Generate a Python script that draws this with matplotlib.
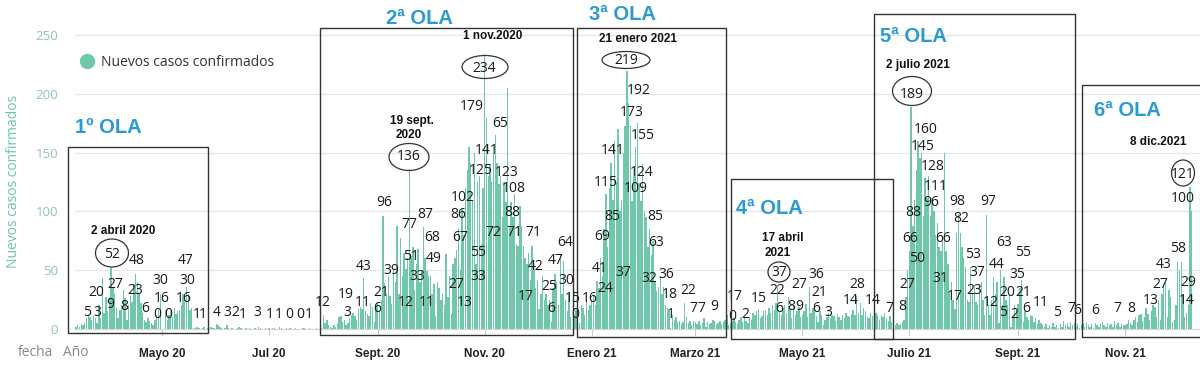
import matplotlib
matplotlib.use("Agg")
import matplotlib.pyplot as plt
from matplotlib.patches import Ellipse, Rectangle
from matplotlib.lines import Line2D
import pandas as pd

plt.rcParams['font.family'] = ['Open Sans', 'DejaVu Sans']

W, H = 1200, 366

# ---------------- daily new confirmed cases ----------------
mar20 = [2, 3, 2, 4, 3, 5, 9, 12, 10, 8, 11, 9, 5, 20, 9, 43, 14, 27, 15]  # from 13 March
apr20 = [27, 52, 35, 30, 18, 9, 16, 20, 33, 26, 8, 20, 28, 23, 38, 47, 40, 30, 22, 14,
         8, 6, 9, 7, 5, 3, 8, 12, 16, 30]
may20 = [0, 0, 16, 8, 12, 15, 10, 18, 13, 15, 16, 20, 30, 25, 36, 30, 16, 18, 1, 1,
         2, 1, 0, 1, 2, 0, 1, 0, 2, 1, 1]
jun20 = [4, 3, 2, 1, 0, 1, 3, 1, 0, 1, 0, 0, 1, 2, 1, 0, 0, 1, 0, 1,
         0, 0, 1, 0, 2, 1, 0, 0, 1, 0]
jul20 = [1, 0, 1, 1, 0, 0, 2, 1, 0, 0, 1, 0, 1, 0, 0, 1, 0, 0, 0, 1,
         1, 0, 0, 1, 0, 0, 0, 1, 0, 0, 1]
aug20 = [12, 5, 8, 3, 2, 1, 3, 2, 4, 10, 11, 6, 8, 3, 5, 9, 12, 14, 11, 8,
         17, 19, 17, 43, 15, 13, 11, 22, 19, 6, 21]
sep20 = [22, 15, 25, 96, 39, 30, 45, 28, 21, 50, 40, 88, 30, 77, 45, 65, 51, 60, 136, 62,
         70, 33, 55, 68, 40, 50, 87, 60, 49, 45]
oct20 = [45, 30, 38, 11, 40, 35, 25, 30, 20, 64, 27, 45, 13, 55, 60, 67, 86, 50, 102, 80,
         120, 135, 155, 141, 110, 150, 55, 125, 130, 72, 120]
nov20 = [234, 179, 130, 140, 125, 150, 165, 141, 123, 130, 95, 125, 108, 205, 88, 108, 95, 115, 72, 71,
         105, 88, 71, 60, 55, 65, 42, 71, 50, 35]
dec20 = [42, 17, 30, 45, 25, 30, 20, 25, 6, 35, 47, 40, 20, 64, 30, 58, 25, 15, 30, 10,
         0, 12, 16, 10, 5, 20, 18, 12, 25, 16, 20]
jan21 = [24, 30, 20, 41, 35, 60, 45, 85, 115, 70, 120, 141, 110, 160, 125, 170, 100, 110, 150, 173,
         219, 192, 173, 109, 130, 155, 175, 124, 109, 140, 100]
feb21 = [95, 70, 85, 63, 75, 40, 32, 36, 45, 30, 36, 20, 18, 15, 1, 12, 8, 10, 6, 7,
         4, 6, 22, 10, 5, 7, 3, 7]
mar21 = [6, 4, 7, 3, 5, 9, 2, 6, 4, 5, 8, 7, 3, 5, 7, 4, 6, 8, 12, 3,
         5, 7, 9, 6, 4, 8, 10, 6, 9, 7, 5]
apr21 = [10, 8, 14, 12, 15, 17, 9, 11, 15, 16, 12, 18, 14, 20, 16, 22, 37, 15, 12, 18,
         20, 14, 27, 17, 9, 20, 12, 15, 19, 10]
may21 = [12, 15, 21, 10, 36, 14, 18, 21, 11, 6, 15, 12, 3, 8, 10, 14, 9, 12, 11, 7,
         13, 10, 8, 12, 9, 14, 11, 10, 13, 16, 12]
jun21 = [28, 14, 22, 12, 18, 15, 10, 9, 14, 11, 16, 14, 12, 8, 12, 10, 14, 9, 7, 11,
         6, 4, 3, 5, 3, 4, 6, 8, 27, 50]
jul21 = [66, 189, 88, 110, 135, 160, 145, 150, 96, 128, 111, 130, 96, 111, 100, 80, 90, 70, 66, 75,
         150, 66, 55, 31, 40, 25, 17, 82, 98, 82, 70]
aug21 = [60, 53, 25, 23, 53, 30, 37, 23, 20, 37, 40, 25, 12, 97, 20, 12, 25, 44, 30, 40,
         5, 50, 20, 44, 25, 20, 30, 2, 10, 20, 15]
sep21 = [21, 35, 42, 6, 15, 10, 8, 12, 11, 6, 9, 4, 8, 5, 3, 2, 4, 1, 3, 2,
         5, 2, 3, 1, 4, 2, 7, 3, 5, 2]
oct21 = [6, 3, 5, 2, 4, 1, 3, 5, 2, 6, 3, 2, 4, 1, 5, 3, 2, 4, 6, 3,
         2, 5, 3, 4, 2, 7, 3, 5, 2, 4, 3]
nov21 = [3, 4, 8, 5, 3, 8, 10, 6, 12, 13, 7, 10, 18, 13, 8, 15, 20, 19, 10, 25,
         8, 30, 37, 41, 10, 33, 27, 6, 8, 20]
dec21 = [57, 50, 57, 29, 10, 14, 20, 121, 100]

start_date = '2020-03-13'

tick_dates = ['2020-05-01', '2020-07-01', '2020-09-01', '2020-11-01', '2021-01-01',
              '2021-03-01', '2021-05-01', '2021-07-01', '2021-09-01', '2021-11-01']
tick_labels = ['Mayo 20', 'Jul 20', 'Sept. 20', 'Nov. 20', 'Enero 21',
               'Marzo 21', 'Mayo 21', 'Julio 21', 'Sept. 21', 'Nov. 21']
y_ticks = [0, 50, 100, 150, 200, 250]

# wave titles and date captions
wave_titles = ['1º OLA', '2ª OLA', '3ª OLA', '4ª OLA', '5ª OLA', '6ª OLA']
date_captions = ['2 abril 2020', '19 sept.', '2020', '1 nov.2020', '21 enero 2021',
                 '17 abril', '2021', '2 julio 2021', '8 dic.2021']
peak_values = ['52', '136', '234', '219', '37', '189', '121']
value_labels = ['5', '3', '20', '9', '27', '48', '8', '23', '6', '0', '0', '30', '16', '16', '30', '47', '1', '1',
                '4', '3', '2', '1', '3', '1', '1', '0', '0', '1',
                '12', '19', '3', '11', '43', '21', '6', '96', '39', '77', '87', '51', '68', '33', '49', '12', '11',
                '27', '13', '67', '86', '102', '55', '33', '125', '141', '179', '65', '123', '108', '72', '88',
                '71', '71', '42', '17', '64', '47', '25', '30', '6', '15', '0',
                '192', '173', '155', '141', '124', '115', '109', '85', '85', '69', '63', '41', '37', '32', '36',
                '24', '16', '18', '22', '1', '7', '7', '9',
                '17', '0', '2', '15', '22', '6', '8', '9', '27', '36', '21', '6', '3', '28', '14', '14', '7',
                '160', '145', '128', '111', '96', '88', '98', '82', '97', '66', '66', '50', '53', '63', '55',
                '27', '31', '37', '44', '35', '23', '17', '20', '21', '12', '8', '5', '2', '6', '11', '5', '7',
                '100', '58', '43', '27', '29', '13', '14', '8', '7', '6', '6']

# ---------------- layout (pixel positions in the 1200x366 canvas) ----------------
title_pos = [(108, 128), (419, 18), (622, 14), (769, 208), (913, 37), (1127, 111)]
caption_pos = [(123, 231), (412, 121), (409, 135), (493, 36), (638, 39),
               (783, 238), (778, 253), (918, 65), (1158, 142)]
peak_text_pos = [(112, 255), (409, 157), (484, 69), (626, 60), (779, 272), (912, 94), (1183, 174)]
peak_ell = [(112, 253, 33, 28), (409, 157, 40, 27), (485, 67, 46, 23), (626, 60, 48, 17),
            (779, 272, 22, 20), (912, 91, 39, 29), (1183, 173, 23, 26)]
value_pos = [(87, 312), (97, 313), (96, 293), (110, 305), (115, 285), (137, 260), (124, 306), (135, 290),
             (145, 309), (157, 315), (168, 315), (160, 281), (162, 298), (184, 298), (187, 281), (186, 261),
             (197, 314), (203, 314),
             (217, 313), (227, 313), (235, 313), (243, 315), (257, 313), (270, 315), (279, 315), (289, 315),
             (300, 315), (309, 315),
             (323, 303), (346, 294), (347, 313), (363, 303), (364, 266), (381, 292), (377, 309), (384, 203),
             (391, 271), (409, 225), (425, 214), (411, 257), (432, 237), (417, 277), (434, 258), (406, 303),
             (427, 303),
             (456, 284), (465, 302), (460, 237), (458, 215), (463, 197), (478, 252), (478, 277), (481, 171),
             (487, 150), (472, 106), (500, 123), (507, 173), (514, 189), (493, 232), (512, 213),
             (514, 232), (533, 232), (536, 267), (526, 297), (565, 242), (556, 261), (549, 287), (566, 281),
             (551, 309), (573, 299), (575, 315),
             (639, 90), (632, 113), (643, 135), (613, 151), (642, 172), (606, 183), (636, 189), (612, 217),
             (655, 217), (602, 236), (656, 243), (600, 268), (623, 273), (649, 278), (666, 275),
             (605, 288), (590, 298), (670, 295), (688, 290), (671, 315), (693, 308), (701, 308), (714, 306),
             (735, 297), (732, 316), (745, 314), (759, 299), (777, 291), (779, 309), (791, 307), (799, 307),
             (799, 284), (816, 274), (819, 293), (816, 309), (828, 313), (857, 284), (851, 300), (873, 300),
             (889, 308),
             (926, 129), (923, 146), (933, 166), (936, 186), (931, 203), (913, 213), (957, 202), (961, 219),
             (988, 202), (910, 239), (943, 239), (917, 258), (973, 254), (1004, 243), (1023, 252),
             (907, 284), (940, 279), (977, 272), (997, 265), (1017, 275), (974, 290), (955, 297), (1007, 293),
             (1023, 293), (991, 303), (902, 307), (1003, 312), (1014, 314), (1026, 309), (1041, 303),
             (1057, 312), (1071, 309),
             (1183, 198), (1178, 249), (1164, 265), (1160, 284), (1188, 282), (1151, 301), (1187, 301),
             (1131, 308), (1117, 308), (1095, 310), (1077, 310)]
boxes = [(68, 147, 208, 333), (320, 28, 573, 335), (577, 28, 726, 337),
         (731, 179, 893, 339), (874, 14, 1075, 339), (1082, 85, 1205, 337)]

BAR = '#6fc8ab'
TITLE_BLUE = '#2a9bd2'

values = (mar20 + apr20 + may20 + jun20 + jul20 + aug20 + sep20 + oct20 + nov20 + dec20 +
          jan21 + feb21 + mar21 + apr21 + may21 + jun21 + jul21 + aug21 + sep21 + oct21 + nov21 + dec21)
dates = pd.date_range(start_date, periods=len(values), freq='D')


def fp(x, y):
    return (x / W, 1 - y / H)


fig = plt.figure(figsize=(W / 100, H / 100), dpi=100)
ax = fig.add_axes([75 / W, 37 / H, 1125 / W, 309 / H])
ax.bar(dates, values, width=0.8, color=BAR, linewidth=0, zorder=2)

px_per_day = 1.755
x_left = pd.Timestamp('2020-05-01') - pd.Timedelta(days=(162 - 75) / px_per_day)
x_right = pd.Timestamp('2021-11-01') + pd.Timedelta(days=(1200 - 1125.1) / px_per_day)
ax.set_xlim(x_left, x_right)
ax.set_ylim(0, 309 / 1.176)

ax.set_yticks(y_ticks)
ax.set_yticklabels([str(v) for v in y_ticks], color='#93c2b4', fontsize=9.5)
ax.tick_params(axis='y', length=0, pad=12)
ax.grid(axis='y', color='#e6e6e6', linewidth=0.9, zorder=0)
ax.set_axisbelow(True)

ax.set_xticks(pd.to_datetime(tick_dates))
ax.set_xticklabels(tick_labels, fontsize=8.5, fontweight='bold', color='#222222',
                   family=['Liberation Sans', 'DejaVu Sans'])
ax.tick_params(axis='x', length=5, color='#cccccc', pad=9)

for s in ['top', 'right', 'left']:
    ax.spines[s].set_visible(False)
ax.spines['bottom'].set_color('#d5d5d5')
ax.spines['bottom'].set_linewidth(0.8)

fig.text(14 / W, 1 - 181 / H, 'Nuevos casos confirmados', rotation=90, ha='center', va='center',
         fontsize=10, color='#6cc6a8')
fig.text(*fp(36, 352), 'fecha', ha='center', va='center', fontsize=10, color='#888888')
fig.text(*fp(76, 352), 'Año', ha='center', va='center', fontsize=10, color='#888888')

handle = Line2D([], [], marker='o', linestyle='none', markersize=10, markerfacecolor=BAR,
                markeredgecolor=BAR)
ax.legend([handle], ['Nuevos casos confirmados'], loc='center left', bbox_to_anchor=fp(80, 62),
          bbox_transform=fig.transFigure, frameon=False, fontsize=10, handlelength=1.0,
          handletextpad=0.5, borderpad=0, borderaxespad=0, labelcolor='#333333')

for (x0, y0, x1, y1) in boxes:
    fig.add_artist(Rectangle(fp(x0, y1), (x1 - x0) / W, (y1 - y0) / H, transform=fig.transFigure,
                             fill=False, edgecolor='#333333', linewidth=1.0, zorder=5))

for t, (x, y) in zip(wave_titles, title_pos):
    fig.text(*fp(x, y), t, ha='center', va='center', fontsize=14.5, fontweight='bold',
             color=TITLE_BLUE, family=['Liberation Sans', 'DejaVu Sans'])

for t, (x, y) in zip(date_captions, caption_pos):
    fig.text(*fp(x, y), t, ha='center', va='center', fontsize=8.5, fontweight='bold',
             color='#111111', family=['Liberation Sans', 'DejaVu Sans'])

for t, (x, y) in zip(peak_values, peak_text_pos):
    fig.text(*fp(x, y), t, ha='center', va='center', fontsize=10, color='#1a1a1a')
for (cx, cy, w, h) in peak_ell:
    fig.add_artist(Ellipse(fp(cx, cy), w / W, h / H, transform=fig.transFigure, fill=False,
                           edgecolor='#333333', linewidth=0.9, zorder=6))

for t, (x, y) in zip(value_labels, value_pos):
    fig.text(*fp(x, y), t, ha='center', va='center', fontsize=10, color='#1a1a1a')

fig.savefig('out.png', dpi=100)
